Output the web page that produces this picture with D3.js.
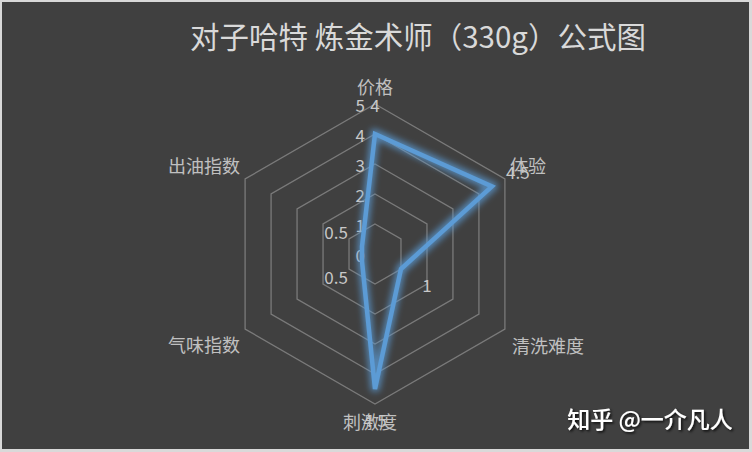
<!DOCTYPE html>
<html><head><meta charset="utf-8">
<script src="https://cdn.jsdelivr.net/npm/d3@7"></script>
<style>body{margin:0;background:#d9d9d9;} svg{display:block;}</style>
</head><body>
<svg id="c" width="752" height="452"></svg>
<script>
const title = "对子哈特 炼金术师（330g）公式图";
const categories = ["价格", "体验", "清洗难度", "刺激度", "气味指数", "出油指数"];
const values = [4, 4.5, 1, 4.5, 0.5, 0.5];
const ticks = [0, 1, 2, 3, 4, 5];
const watermark = "知乎 @一介凡人";

const svg = d3.select("#c");
const font = "'Noto Sans CJK SC', 'Noto Sans', sans-serif";
svg.append("rect").attr("x", 2).attr("y", 2).attr("width", 747).attr("height", 447).attr("fill", "#404040");

const defs = svg.append("defs");
const f = defs.append("filter").attr("id", "glow").attr("x", "-30%").attr("y", "-30%").attr("width", "160%").attr("height", "160%");
f.append("feMorphology").attr("in", "SourceGraphic").attr("operator", "dilate").attr("radius", 2).attr("result", "d");
f.append("feGaussianBlur").attr("in", "d").attr("stdDeviation", 3).attr("result", "b");
f.append("feComponentTransfer").attr("in", "b").attr("result", "b2")
  .append("feFuncA").attr("type", "linear").attr("slope", 0.75);
const m = f.append("feMerge");
m.append("feMergeNode").attr("in", "b2");
m.append("feMergeNode").attr("in", "SourceGraphic");
const ws = defs.append("filter").attr("id", "shadow");
ws.append("feDropShadow").attr("dx", 1.5).attr("dy", 1.5).attr("stdDeviation", 1).attr("flood-color", "#000").attr("flood-opacity", 0.8);

const cx = 375, cy = 254;
const r = d3.scaleLinear().domain([0, 5]).range([0, 150]);
const angle = d3.scalePoint().domain(categories).range([0, 2 * Math.PI * 5 / 6]);
const pt = (cat, rad) => [cx + rad * Math.sin(angle(cat)), cy - rad * Math.cos(angle(cat))];

const g = svg.append("g");
ticks.filter(t => t > 0).forEach(t => {
  g.append("path")
    .attr("d", d3.line()(categories.map(c => pt(c, r(t)))) + "Z")
    .attr("fill", "none").attr("stroke", "#7a7a7a").attr("stroke-width", 1.3);
});

g.selectAll(".tick").data(ticks).join("text")
  .attr("x", cx - 10).attr("y", d => cy - r(d))
  .attr("text-anchor", "end").attr("dominant-baseline", "central")
  .attr("font-family", font).attr("font-size", 17).attr("fill", "#c8c8c8")
  .text(d => d);

const data = categories.map((c, i) => ({c, v: values[i]}));
g.append("path")
  .attr("d", d3.line()(data.map(d => pt(d.c, r(d.v)))) + "Z")
  .attr("fill", "none").attr("stroke", "#5b9bd5").attr("stroke-width", 4.5)
  .attr("stroke-linejoin", "miter").attr("filter", "url(#glow)");

const labelPos = [
  {dx: 0, dy: -18, a: "middle"},
  {dx: 5, dy: -14, a: "start"},
  {dx: 7, dy: 16, a: "start"},
  {dx: -5, dy: 17, a: "middle"},
  {dx: -5, dy: 15, a: "end"},
  {dx: -5, dy: -14, a: "end"}
];
categories.forEach((c, i) => {
  const [x, y] = pt(c, r(5));
  g.append("text").attr("x", x + labelPos[i].dx).attr("y", y + labelPos[i].dy)
    .attr("text-anchor", labelPos[i].a).attr("dominant-baseline", "central")
    .attr("font-family", font).attr("font-size", 18).attr("fill", "#c0c0c0").text(c);
});

data.forEach(d => {
  const [x, y] = pt(d.c, r(d.v + 1));
  g.append("text").attr("x", x).attr("y", y)
    .attr("text-anchor", "middle").attr("dominant-baseline", "central")
    .attr("font-family", font).attr("font-size", 17).attr("fill", "#c8c8c8").text(d.v);
});

svg.append("text").attr("x", 418).attr("y", 35)
  .attr("text-anchor", "middle").attr("dominant-baseline", "central")
  .attr("font-family", font).attr("font-size", 29.5).attr("fill", "#d9d9d9").text(title);

svg.append("text").attr("x", 650).attr("y", 418)
  .attr("text-anchor", "middle").attr("dominant-baseline", "central")
  .attr("font-family", font).attr("font-size", 23).attr("font-weight", 500).attr("fill", "#ffffff")
  .attr("filter", "url(#shadow)").text(watermark);
</script>
</body></html>
